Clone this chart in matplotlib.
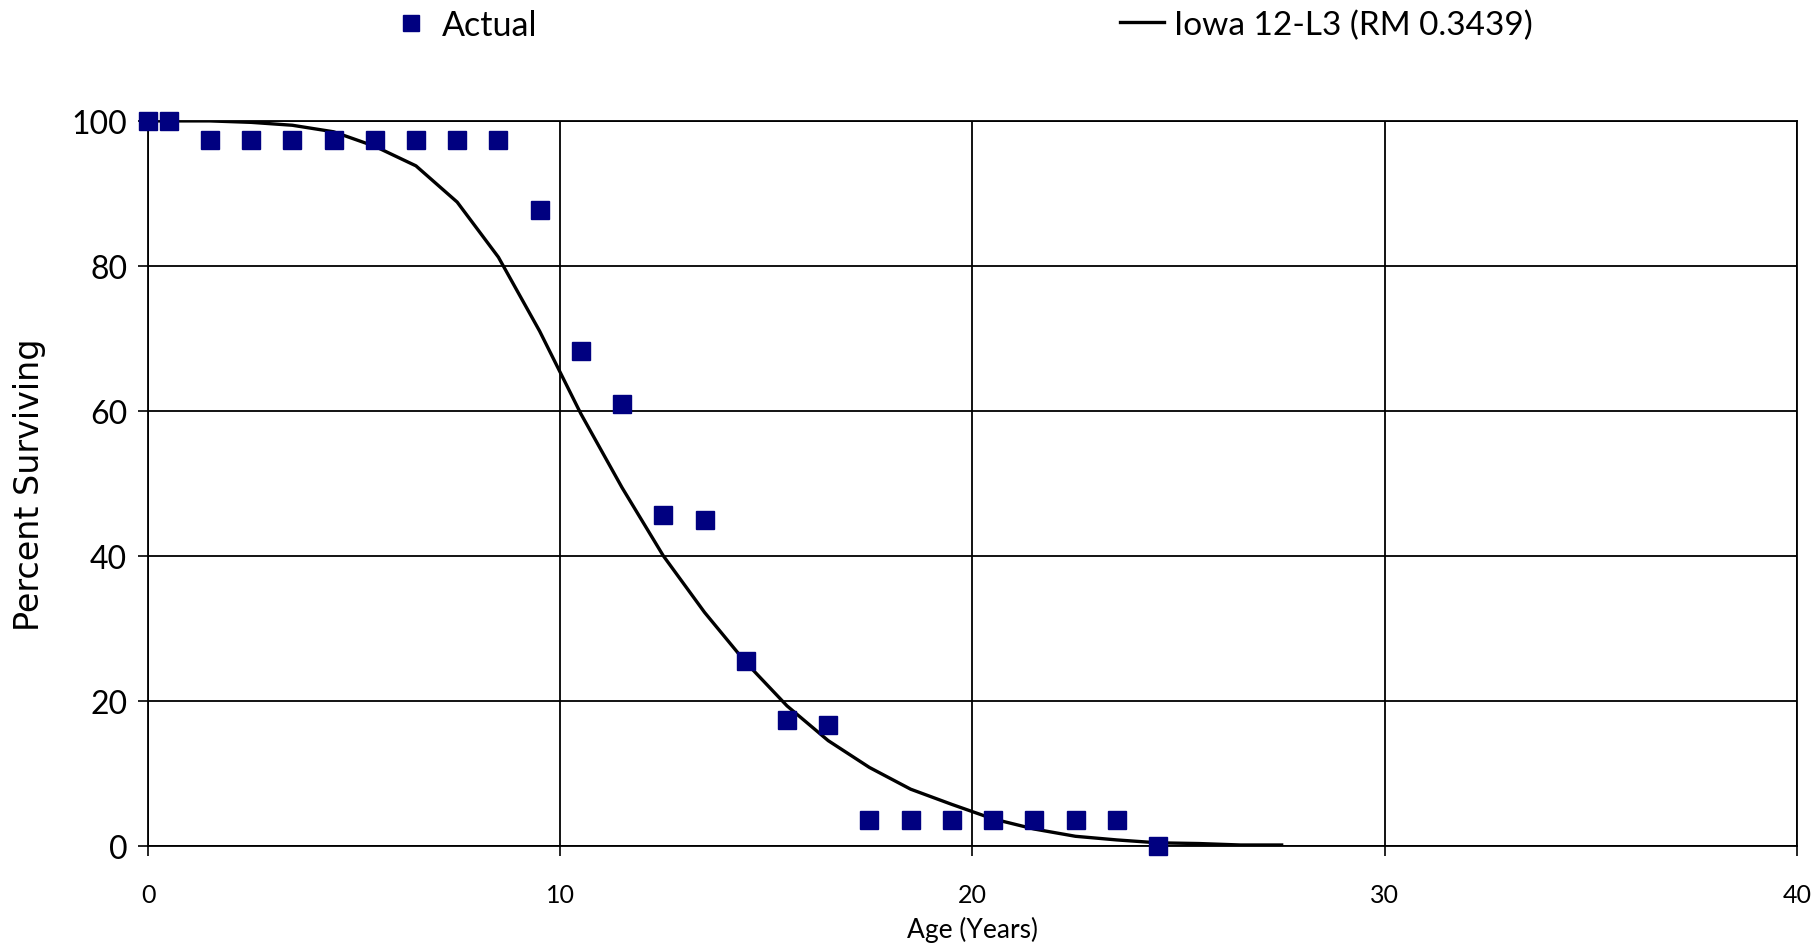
import matplotlib
matplotlib.use("Agg")
import matplotlib.pyplot as plt
from matplotlib.lines import Line2D

# observed survivorship (percent surviving at each age)
actual_age = [0, 0.5, 1.5, 2.5, 3.5, 4.5, 5.5, 6.5, 7.5, 8.5, 9.5, 10.5, 11.5,
              12.5, 13.5, 14.5, 15.5, 16.5, 17.5, 18.5, 19.5, 20.5, 21.5,
              22.5, 23.5, 24.5]
actual_pct = [100, 100, 97.4, 97.4, 97.4, 97.4, 97.4, 97.4, 97.4, 97.4, 87.7,
              68.2, 60.9, 45.6, 44.9, 25.5, 17.4, 16.7, 3.6, 3.6, 3.6, 3.6,
              3.6, 3.6, 3.6, 0.0]

# fitted Iowa 12-L3 curve
iowa_age = [0, 0.5, 1.5, 2.5, 3.5, 4.5, 5.5, 6.5, 7.5, 8.5, 9.5, 10.5, 11.5,
            12.5, 13.5, 14.5, 15.5, 16.5, 17.5, 18.5, 19.5, 20.5, 21.5, 22.5,
            23.5, 24.5, 25.5, 26.5, 27.5]
iowa_pct = [100, 100, 100, 99.8, 99.4, 98.5, 96.5, 93.8, 88.8, 81.2, 71.0,
            59.6, 49.4, 40.0, 32.2, 25.3, 19.3, 14.5, 10.8, 7.8, 5.7, 3.7,
            2.3, 1.3, 0.8, 0.4, 0.3, 0.1, 0.1]

txt_font = ['Lato', 'DejaVu Sans']
navy = '#000080'

fig = plt.figure(figsize=(18.16, 9.45), dpi=100)
ax = fig.add_axes([0.0815, 0.104, 0.908, 0.767])

ax.plot(iowa_age, iowa_pct, color='black', lw=2.4, zorder=3)
ax.plot(actual_age, actual_pct, ls='none', marker='s', ms=12.5, color=navy,
        mec=navy, zorder=4, clip_on=False)

ax.set_xlim(0, 40)
ax.set_ylim(0, 100)
ax.set_xticks([0, 10, 20, 30, 40])
ax.set_yticks([0, 20, 40, 60, 80, 100])
ax.grid(True, color='black', lw=1.3)
ax.set_axisbelow(True)
for s in ax.spines.values():
    s.set_color('black')
    s.set_linewidth(1.3)

ax.tick_params(axis='x', length=7, width=1.2, pad=20, labelsize=18)
ax.tick_params(axis='y', length=7, width=1.2, pad=8, labelsize=23)
for lbl in ax.get_xticklabels() + ax.get_yticklabels():
    lbl.set_family(txt_font)

ax.set_xlabel('Age (Years)', family=txt_font, fontsize=19, labelpad=7)
ax.set_ylabel('Percent Surviving', family='DejaVu Sans', fontsize=24,
              labelpad=18)

h1 = Line2D([], [], ls='none', marker='s', ms=12, color=navy)
h2 = Line2D([], [], color='black', lw=2.4)
fig.legend([h1], ['Actual'], loc='center left',
           bbox_to_anchor=(0.219, 0.973), frameon=False,
           prop={'family': txt_font, 'size': 24.5}, handlelength=0.8,
           handletextpad=0.5, borderaxespad=0, borderpad=0)
fig.legend([h2], ['Iowa 12-L3 (RM 0.3439)'], loc='center left',
           bbox_to_anchor=(0.617, 0.973), frameon=False,
           prop={'family': txt_font, 'size': 24}, handlelength=1.3,
           handletextpad=0.3, borderaxespad=0, borderpad=0)

fig.savefig('out.png', dpi=100)
